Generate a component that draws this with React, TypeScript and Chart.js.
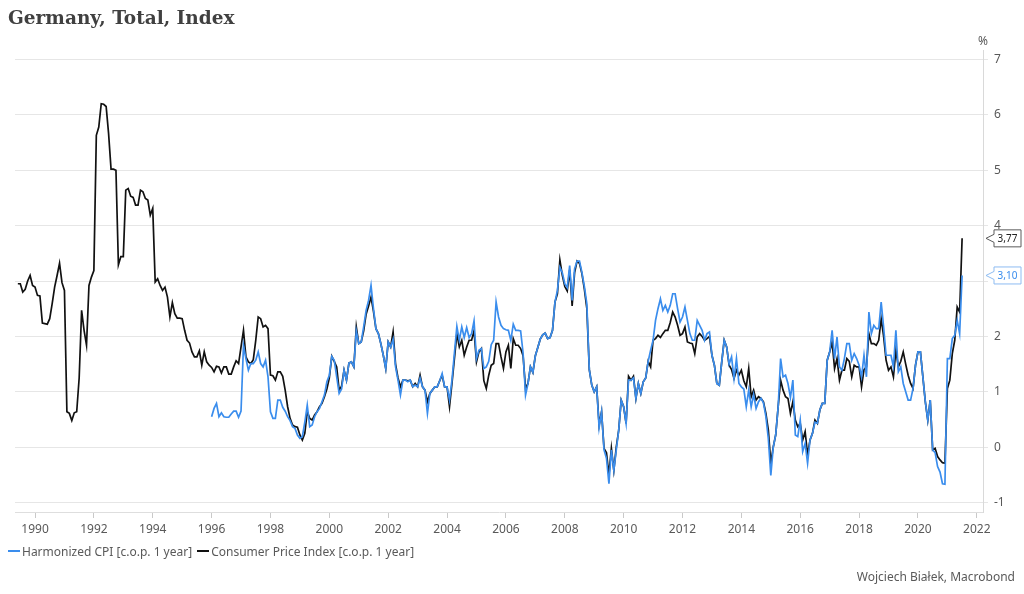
import React, { useEffect, useRef } from 'react';
import { Chart, registerables } from 'chart.js';

Chart.register(...registerables);

// ---------------- DATA ----------------
const titleText = 'Germany, Total, Index';
const hicpLabel = 'Harmonized CPI [c.o.p. 1 year]';
const cpiLabel = 'Consumer Price Index [c.o.p. 1 year]';
const sourceText = 'Wojciech Białek, Macrobond';
const unitText = '%';

// first month of each monthly series
const cpiStart = { year: 1989, month: 6 };
const hicpStart = { year: 1996, month: 1 };

// Consumer Price Index, % y/y, monthly
const cpiValues = [
  // 1989 (Jun-Dec)
  2.95, 2.95, 2.80, 2.85, 3.00, 3.10, 2.92,
  // 1990
  2.89, 2.74, 2.73, 2.24, 2.23, 2.22, 2.32, 2.59, 2.89, 3.10, 3.32, 2.97,
  // 1991
  2.83, 0.64, 0.61, 0.48, 0.62, 0.64, 1.25, 2.47, 2.11, 1.84, 2.92, 3.07,
  // 1992
  3.19, 5.63, 5.78, 6.20, 6.19, 6.15, 5.66, 5.02, 5.02, 5.00, 3.29, 3.44,
  // 1993
  3.44, 4.64, 4.67, 4.53, 4.51, 4.37, 4.37, 4.64, 4.61, 4.49, 4.46, 4.19,
  // 1994
  4.31, 2.98, 3.04, 2.92, 2.83, 2.89, 2.71, 2.35, 2.61, 2.41, 2.33, 2.33,
  // 1995
  2.32, 2.11, 1.93, 1.88, 1.72, 1.63, 1.63, 1.74, 1.48, 1.72, 1.54, 1.48,
  // 1996
  1.44, 1.36, 1.46, 1.45, 1.34, 1.45, 1.45, 1.32, 1.32, 1.45, 1.56, 1.51,
  // 1997
  1.81, 2.11, 1.63, 1.54, 1.51, 1.58, 1.93, 2.35, 2.32, 2.17, 2.20, 2.14,
  // 1998
  1.30, 1.29, 1.21, 1.36, 1.36, 1.28, 1.03, 0.73, 0.52, 0.40, 0.37, 0.36,
  // 1999
  0.22, 0.13, 0.25, 0.64, 0.52, 0.49, 0.58, 0.64, 0.73, 0.79, 0.91, 1.05,
  // 2000
  1.25, 1.64, 1.55, 1.45, 1.03, 1.10, 1.39, 1.21, 1.52, 1.54, 1.45, 2.17,
  // 2001
  1.87, 1.90, 2.10, 2.40, 2.55, 2.71, 2.45, 2.14, 2.05, 1.87, 1.66, 1.42,
  // 2002
  1.90, 1.81, 2.08, 1.50, 1.25, 1.09, 1.21, 1.21, 1.20, 1.21, 1.09, 1.15,
  // 2003
  1.09, 1.30, 1.09, 1.03, 0.82, 0.97, 1.03, 1.09, 1.09, 1.20, 1.30, 1.09,
  // 2004
  1.09, 0.73, 1.15, 1.60, 2.05, 1.81, 1.93, 1.66, 1.81, 1.93, 1.93, 2.10,
  // 2005
  1.54, 1.72, 1.78, 1.20, 1.06, 1.30, 1.48, 1.51, 1.87, 1.87, 1.63, 1.42,
  // 2006
  1.72, 1.84, 1.42, 1.96, 1.84, 1.84, 1.78, 1.65, 1.06, 1.15, 1.45, 1.35,
  // 2007
  1.65, 1.80, 1.95, 2.03, 2.06, 1.96, 1.98, 2.11, 2.62, 2.77, 3.38, 3.10,
  // 2008
  2.90, 2.82, 3.20, 2.55, 3.15, 3.36, 3.32, 3.13, 2.85, 2.50, 1.40, 1.12,
  // 2009
  1.00, 1.09, 0.40, 0.64, -0.02, -0.10, -0.50, -0.02, -0.42, 0.00, 0.31, 0.85,
  // 2010
  0.73, 0.43, 1.28, 1.21, 1.28, 0.88, 1.15, 0.97, 1.18, 1.25, 1.55, 1.45,
  // 2011
  1.93, 1.96, 2.02, 1.98, 2.05, 2.11, 2.11, 2.25, 2.44, 2.35, 2.20, 2.02,
  // 2012
  2.05, 2.17, 1.90, 1.88, 1.87, 1.69, 1.99, 2.05, 2.00, 1.93, 1.96, 2.00,
  // 2013
  1.66, 1.48, 1.15, 1.12, 1.54, 1.93, 1.81, 1.48, 1.40, 1.24, 1.39, 1.30,
  // 2014
  1.39, 1.20, 1.09, 1.42, 0.91, 1.03, 0.85, 0.91, 0.88, 0.82, 0.61, 0.31,
  // 2015
  -0.29, 0.00, 0.22, 0.73, 1.21, 1.03, 0.91, 0.88, 0.61, 0.82, 0.49, 0.37,
  // 2016
  0.43, 0.13, 0.28, -0.14, 0.13, 0.25, 0.49, 0.43, 0.67, 0.79, 0.79, 1.57,
  // 2017
  1.72, 1.90, 1.42, 1.60, 1.21, 1.39, 1.39, 1.60, 1.55, 1.27, 1.48, 1.45,
  // 2018
  1.45, 1.09, 1.40, 1.45, 2.05, 1.87, 1.87, 1.84, 1.93, 2.32, 2.00, 1.57,
  // 2019
  1.39, 1.45, 1.27, 1.75, 1.45, 1.55, 1.72, 1.50, 1.30, 1.15, 1.06, 1.48,
  // 2020
  1.72, 1.72, 1.27, 0.82, 0.49, 0.85, -0.05, -0.02, -0.17, -0.23, -0.28, -0.29,
  // 2021 (Jan-Jul)
  1.06, 1.21, 1.69, 1.93, 2.53, 2.44, 3.77,
];

// Harmonized CPI, % y/y, monthly
const hicpValues = [
  // 1996
  0.55, 0.70, 0.79, 0.55, 0.62, 0.55, 0.54, 0.54, 0.60, 0.65, 0.65, 0.54,
  // 1997
  0.65, 1.84, 1.60, 1.39, 1.51, 1.51, 1.57, 1.72, 1.51, 1.45, 1.57, 1.27,
  // 1998
  0.64, 0.52, 0.52, 0.85, 0.85, 0.72, 0.65, 0.55, 0.48, 0.37, 0.34, 0.22,
  // 1999
  0.16, 0.19, 0.45, 0.76, 0.37, 0.40, 0.55, 0.64, 0.70, 0.82, 0.94, 1.18,
  // 2000
  1.30, 1.64, 1.57, 1.27, 0.97, 1.05, 1.39, 1.21, 1.52, 1.54, 1.45, 2.10,
  // 2001
  1.87, 1.90, 2.17, 2.47, 2.65, 2.92, 2.50, 2.14, 2.05, 1.87, 1.66, 1.42,
  // 2002
  1.90, 1.81, 1.95, 1.45, 1.21, 0.94, 1.21, 1.21, 1.18, 1.21, 1.09, 1.12,
  // 2003
  1.09, 1.25, 1.09, 1.03, 0.61, 0.97, 1.03, 1.09, 1.09, 1.20, 1.33, 1.09,
  // 2004
  1.09, 0.85, 1.21, 1.70, 2.18, 1.93, 2.17, 1.98, 2.16, 1.98, 2.05, 2.28,
  // 2005
  1.60, 1.75, 1.78, 1.42, 1.45, 1.55, 1.85, 1.93, 2.62, 2.35, 2.20, 2.14,
  // 2006
  2.12, 2.11, 1.93, 2.22, 2.11, 2.11, 2.10, 1.70, 0.94, 1.15, 1.45, 1.35,
  // 2007
  1.65, 1.80, 1.95, 2.03, 2.06, 1.96, 1.98, 2.11, 2.62, 2.83, 3.25, 3.15,
  // 2008
  2.95, 2.88, 3.28, 2.65, 3.22, 3.36, 3.36, 3.15, 2.90, 2.59, 1.40, 1.12,
  // 2009
  1.00, 1.09, 0.35, 0.64, -0.05, -0.20, -0.66, -0.05, -0.42, -0.05, 0.31, 0.85,
  // 2010
  0.73, 0.43, 1.21, 1.21, 1.25, 0.88, 1.15, 0.97, 1.18, 1.25, 1.55, 1.75,
  // 2011
  1.93, 2.29, 2.50, 2.68, 2.47, 2.56, 2.44, 2.56, 2.77, 2.77, 2.50, 2.26,
  // 2012
  2.35, 2.53, 2.29, 2.05, 1.93, 1.93, 2.29, 2.20, 2.11, 1.93, 2.05, 2.08,
  // 2013
  1.66, 1.48, 1.15, 1.12, 1.54, 1.93, 1.81, 1.50, 1.63, 1.24, 1.60, 1.15,
  // 2014
  1.09, 1.05, 0.73, 1.03, 0.73, 0.95, 0.70, 0.82, 0.88, 0.80, 0.55, 0.15,
  // 2015
  -0.51, 0.00, 0.22, 0.73, 1.60, 1.27, 1.30, 1.15, 0.90, 1.21, 0.22, 0.19,
  // 2016
  0.49, -0.08, 0.07, -0.29, 0.13, 0.25, 0.45, 0.43, 0.67, 0.79, 0.79, 1.57,
  // 2017
  1.72, 2.11, 1.60, 1.99, 1.45, 1.39, 1.60, 1.87, 1.87, 1.57, 1.69, 1.60,
  // 2018
  1.48, 1.27, 1.66, 1.27, 2.44, 2.05, 2.20, 2.14, 2.14, 2.62, 2.17, 1.66,
  // 2019
  1.66, 1.66, 1.45, 2.11, 1.36, 1.45, 1.15, 1.00, 0.85, 0.85, 1.06, 1.48,
  // 2020
  1.72, 1.72, 1.27, 0.82, 0.49, 0.85, -0.05, -0.10, -0.35, -0.45, -0.66, -0.67,
  // 2021 (Jan-Jul)
  1.60, 1.60, 1.96, 2.02, 2.29, 2.05, 3.10,
];

// axis ticks
const xTickYears = [1990, 1992, 1994, 1996, 1998, 2000, 2002, 2004, 2006, 2008, 2010, 2012, 2014, 2016, 2018, 2020, 2022];
const yTickValues = [-1, 0, 1, 2, 3, 4, 5, 6, 7];
const xRange = { min: 1989.32, max: 2022.21 };
const yRange = { min: -1.17, max: 7.17 };

// ---------------- STYLE ----------------
const BLUE = '#3a8ded';
const BLACK = '#111111';
const TEXT = '#595959';
const FONT = '"Noto Sans", "Open Sans", sans-serif';

function toPoints(start: { year: number; month: number }, values: number[]) {
  return values.map((v, i) => ({ x: start.year + (start.month - 1 + i) / 12, y: v }));
}

const endLabelPlugin = {
  id: 'endLabels',
  afterDraw(chart: any) {
    const { ctx, chartArea, scales } = chart;
    const items = [
      { value: cpiValues[cpiValues.length - 1], stroke: '#5a5a5a', color: '#222222' },
      { value: hicpValues[hicpValues.length - 1], stroke: '#8dbcf2', color: BLUE },
    ];
    ctx.save();
    items.forEach((it) => {
      const y = scales.y.getPixelForValue(it.value);
      const tip = chartArea.right + 3;
      const bx = tip + 8;
      const bw = 27;
      const h = 8.5;
      ctx.beginPath();
      ctx.moveTo(tip, y);
      ctx.lineTo(bx, y - 4);
      ctx.lineTo(bx, y - h);
      ctx.lineTo(bx + bw, y - h);
      ctx.lineTo(bx + bw, y + h);
      ctx.lineTo(bx, y + h);
      ctx.lineTo(bx, y + 4);
      ctx.closePath();
      ctx.fillStyle = '#ffffff';
      ctx.fill();
      ctx.lineWidth = 1;
      ctx.strokeStyle = it.stroke;
      ctx.stroke();
      ctx.fillStyle = it.color;
      ctx.font = `10px ${FONT}`;
      ctx.textAlign = 'center';
      ctx.textBaseline = 'middle';
      ctx.fillText(it.value.toFixed(2).replace('.', ','), bx + bw / 2, y + 0.5);
    });
    ctx.restore();
  },
};

export default function App() {
  const ref = useRef<HTMLCanvasElement | null>(null);

  useEffect(() => {
    if (!ref.current) return;
    const chart = new Chart(ref.current, {
      type: 'line',
      data: {
        datasets: [
          {
            label: hicpLabel,
            data: toPoints(hicpStart, hicpValues),
            borderColor: BLUE,
            borderWidth: 1.7,
            pointRadius: 0,
            tension: 0,
            fill: false,
          },
          {
            label: cpiLabel,
            data: toPoints(cpiStart, cpiValues),
            borderColor: BLACK,
            borderWidth: 1.7,
            pointRadius: 0,
            tension: 0,
            fill: false,
          },
        ],
      },
      options: {
        responsive: false,
        animation: false,
        events: [],
        layout: { padding: { left: 15, top: 50, right: 0, bottom: 0 } },
        plugins: {
          legend: { display: false },
          tooltip: { enabled: false },
          title: { display: false },
        },
        scales: {
          x: {
            type: 'linear',
            min: xRange.min,
            max: xRange.max,
            afterBuildTicks: (s: any) => {
              s.ticks = xTickYears.map((v) => ({ value: v }));
            },
            afterFit: (s: any) => {
              s.height = 82;
            },
            grid: { drawOnChartArea: false, drawTicks: true, tickLength: 6, color: '#c9c9c9' },
            border: { display: true, color: '#dedede' },
            ticks: {
              color: TEXT,
              font: { family: FONT, size: 12 },
              padding: 4,
              maxRotation: 0,
              autoSkip: false,
              callback: (v: any) => String(v),
            },
          },
          y: {
            type: 'linear',
            position: 'right',
            min: yRange.min,
            max: yRange.max,
            afterBuildTicks: (s: any) => {
              s.ticks = yTickValues.map((v) => ({ value: v }));
            },
            afterFit: (s: any) => {
              s.width = 41;
            },
            grid: { color: '#e6e6e6', tickLength: 5, drawTicks: true },
            border: { display: true, color: '#d9d9d9' },
            ticks: {
              color: TEXT,
              font: { family: FONT, size: 12 },
              padding: 6,
              autoSkip: false,
              callback: (v: any) => String(v),
            },
          },
        },
      },
      plugins: [endLabelPlugin],
    } as any);
    return () => chart.destroy();
  }, []);

  return (
    <div
      style={{
        position: 'absolute',
        left: 0,
        top: 0,
        width: 1024,
        height: 594,
        background: '#ffffff',
        overflow: 'hidden',
        fontFamily: FONT,
      }}
    >
      <canvas
        ref={ref}
        width={1024}
        height={594}
        style={{ position: 'absolute', left: 0, top: 0, width: 1024, height: 594 }}
      />
      <div
        style={{
          position: 'absolute',
          left: 8,
          top: 9,
          fontFamily: '"DejaVu Serif", serif',
          fontWeight: 'bold',
          fontSize: 18.5,
          lineHeight: 1,
          color: '#404040',
          whiteSpace: 'nowrap',
        }}
      >
        {titleText}
      </div>
      <div
        style={{
          position: 'absolute',
          left: 978,
          top: 33,
          fontSize: 12,
          lineHeight: '16px',
          color: TEXT,
        }}
      >
        {unitText}
      </div>
      <div
        style={{
          position: 'absolute',
          left: 8,
          top: 543,
          height: 16,
          display: 'flex',
          alignItems: 'center',
          fontSize: 12,
          color: TEXT,
          whiteSpace: 'nowrap',
        }}
      >
        <span style={{ display: 'inline-block', width: 12, height: 2, background: BLUE, marginRight: 2 }} />
        <span>{hicpLabel}</span>
        <span style={{ display: 'inline-block', width: 12, height: 2, background: BLACK, marginLeft: 5, marginRight: 2 }} />
        <span>{cpiLabel}</span>
      </div>
      <div
        style={{
          position: 'absolute',
          right: 9,
          top: 569,
          fontSize: 12,
          lineHeight: '16px',
          color: TEXT,
          whiteSpace: 'nowrap',
        }}
      >
        {sourceText}
      </div>
    </div>
  );
}
